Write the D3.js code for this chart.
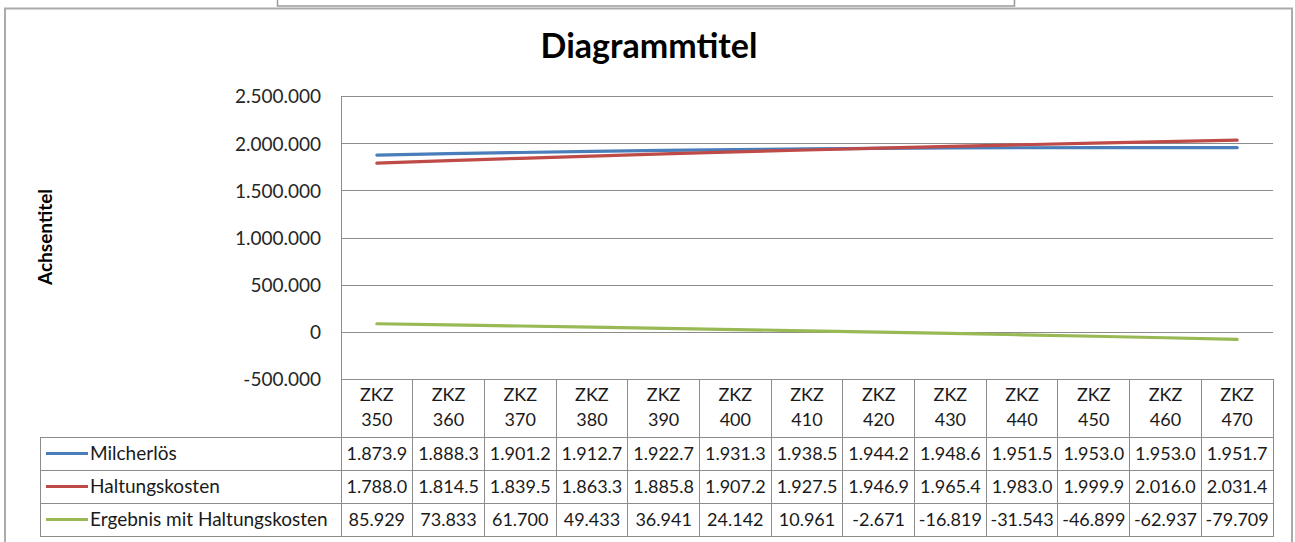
<!DOCTYPE html>
<html>
<head>
<meta charset="utf-8">
<script src="https://cdn.jsdelivr.net/npm/d3@7"></script>
<style>
  html, body { margin: 0; padding: 0; background: #fff; }
  svg { display: block; font-family: Lato, "Open Sans", sans-serif; }
</style>
</head>
<body>
<svg id="chart" width="1295" height="542"></svg>
<script>
// Categories (herd sizes)
const categories = ["ZKZ 350", "ZKZ 360", "ZKZ 370", "ZKZ 380", "ZKZ 390", "ZKZ 400", "ZKZ 410",
                    "ZKZ 420", "ZKZ 430", "ZKZ 440", "ZKZ 450", "ZKZ 460", "ZKZ 470"];

// Series values (EUR)
const milcherloes = [1873900, 1888300, 1901200, 1912700, 1922700, 1931300, 1938500,
                     1944200, 1948600, 1951500, 1953000, 1953000, 1951700];
const haltungskosten = [1788000, 1814500, 1839500, 1863300, 1885800, 1907200, 1927500,
                        1946900, 1965400, 1983000, 1999900, 2016000, 2031400];
const ergebnis = [85929, 73833, 61700, 49433, 36941, 24142, 10961,
                  -2671, -16819, -31543, -46899, -62937, -79709];

const seriesNames = ["Milcherlös", "Haltungskosten", "Ergebnis mit Haltungskosten"];
const seriesColors = ["#4a7ebb", "#be4b48", "#98b954"];
const yTicks = [-500000, 0, 500000, 1000000, 1500000, 2000000, 2500000];

const series = [milcherloes, haltungskosten, ergebnis].map((values, i) => ({
  name: seriesNames[i], color: seriesColors[i], values
}));

const svg = d3.select("#chart");
const plot = { left: 341, right: 1273, top: 96, bottom: 379 };
const tableLeft = 40;
const headerBottom = 437;
const rowH = 33;

const de = d3.formatLocale({ decimal: ",", thousands: ".", grouping: [3], currency: ["", " €"], minus: "-" });
const fmt = de.format(",d");

const x = d3.scaleBand().domain(categories).range([plot.left, plot.right]);
const y = d3.scaleLinear().domain([-500000, 2500000]).range([plot.bottom, plot.top]);

// Frame elements
svg.append("rect")
  .attr("x", 277.5).attr("y", -6).attr("width", 737).attr("height", 12)
  .attr("fill", "#fff").attr("stroke", "#9a9a9a").attr("stroke-width", 1.5);
svg.append("rect")
  .attr("x", 5).attr("y", 8.5).attr("width", 1287).attr("height", 560)
  .attr("fill", "#fff").attr("stroke", "#ababab").attr("stroke-width", 2);

// Title
svg.append("text")
  .attr("x", 649).attr("y", 58)
  .attr("text-anchor", "middle")
  .attr("font-size", 34).attr("font-weight", 700).attr("fill", "#000")
  .text("Diagrammtitel");

// Axis title
svg.append("text")
  .attr("transform", "translate(52,237) rotate(-90)")
  .attr("text-anchor", "middle")
  .attr("font-size", 19).attr("font-weight", 700).attr("fill", "#000")
  .text("Achsentitel");

// Gridlines
const grid = svg.append("g")
  .attr("transform", `translate(${plot.left},0)`)
  .call(d3.axisLeft(y).tickValues(yTicks).tickSize(-(plot.right - plot.left)).tickFormat(""));
grid.select(".domain").remove();
grid.selectAll("line").attr("stroke", "#8c8c8c").attr("stroke-width", 1).attr("shape-rendering", "crispEdges");

// Left border of plot area
svg.append("line")
  .attr("x1", plot.left).attr("x2", plot.left).attr("y1", plot.top).attr("y2", plot.bottom)
  .attr("stroke", "#8c8c8c").attr("shape-rendering", "crispEdges");

// Y axis labels
const yAxis = svg.append("g")
  .attr("transform", `translate(${plot.left - 20},0)`)
  .call(d3.axisLeft(y).tickValues(yTicks).tickSize(0).tickPadding(0).tickFormat(d => fmt(d)));
yAxis.select(".domain").remove();
yAxis.selectAll("text")
  .attr("font-family", "Lato, sans-serif").attr("font-size", 19).attr("fill", "#262626")
  .attr("dy", "0.36em");

// Series lines
const line = d3.line()
  .x((d, i) => x(categories[i]) + x.bandwidth() / 2)
  .y(d => y(d));
svg.append("g").selectAll("path")
  .data(series)
  .join("path")
  .attr("d", d => line(d.values))
  .attr("fill", "none")
  .attr("stroke", d => d.color)
  .attr("stroke-width", 3.2)
  .attr("stroke-linecap", "round");

// Data table
const table = svg.append("g").attr("font-size", 18).attr("fill", "#1a1a1a");
const tableStroke = "#8c8c8c";

// Header cells
const hdr = table.append("g").selectAll("g")
  .data(categories)
  .join("g")
  .attr("transform", d => `translate(${x(d)},${plot.bottom})`);
hdr.append("rect")
  .attr("width", x.bandwidth()).attr("height", headerBottom - plot.bottom)
  .attr("fill", "none").attr("stroke", tableStroke).attr("shape-rendering", "crispEdges");
hdr.append("text")
  .attr("x", x.bandwidth() / 2).attr("text-anchor", "middle")
  .selectAll("tspan")
  .data(d => d.split(" "))
  .join("tspan")
  .attr("x", x.bandwidth() / 2)
  .attr("y", (d, i) => 22 + i * 25)
  .text(d => d);

// Series rows
const rows = table.append("g").selectAll("g")
  .data(series)
  .join("g")
  .attr("transform", (d, i) => `translate(0,${headerBottom + i * rowH})`);

rows.append("rect")
  .attr("x", tableLeft).attr("width", plot.left - tableLeft).attr("height", rowH)
  .attr("fill", "none").attr("stroke", tableStroke).attr("shape-rendering", "crispEdges");
rows.append("line")
  .attr("x1", tableLeft + 6).attr("x2", tableLeft + 48)
  .attr("y1", rowH / 2).attr("y2", rowH / 2)
  .attr("stroke", d => d.color).attr("stroke-width", 3.2);
rows.append("text")
  .attr("x", tableLeft + 50).attr("y", rowH / 2).attr("dy", "0.36em")
  .attr("font-size", 19)
  .text(d => d.name);

const cells = rows.selectAll("g.cell")
  .data(d => d.values.map((v, i) => ({ v, c: categories[i] })))
  .join("g")
  .attr("class", "cell")
  .attr("transform", d => `translate(${x(d.c)},0)`);
cells.append("rect")
  .attr("width", x.bandwidth()).attr("height", rowH)
  .attr("fill", "none").attr("stroke", tableStroke).attr("shape-rendering", "crispEdges");
cells.append("text")
  .attr("x", x.bandwidth() / 2).attr("y", rowH / 2).attr("dy", "0.36em")
  .attr("text-anchor", "middle")
  .text(d => fmt(d.v))
  .each(function () {
    // Narrow cells cut the trailing digits of long numbers
    const el = d3.select(this);
    let s = el.text();
    while (this.getComputedTextLength() > x.bandwidth() - 4 && s.length > 1) {
      s = s.slice(0, -1);
      el.text(s);
    }
  });
</script>
</body>
</html>
